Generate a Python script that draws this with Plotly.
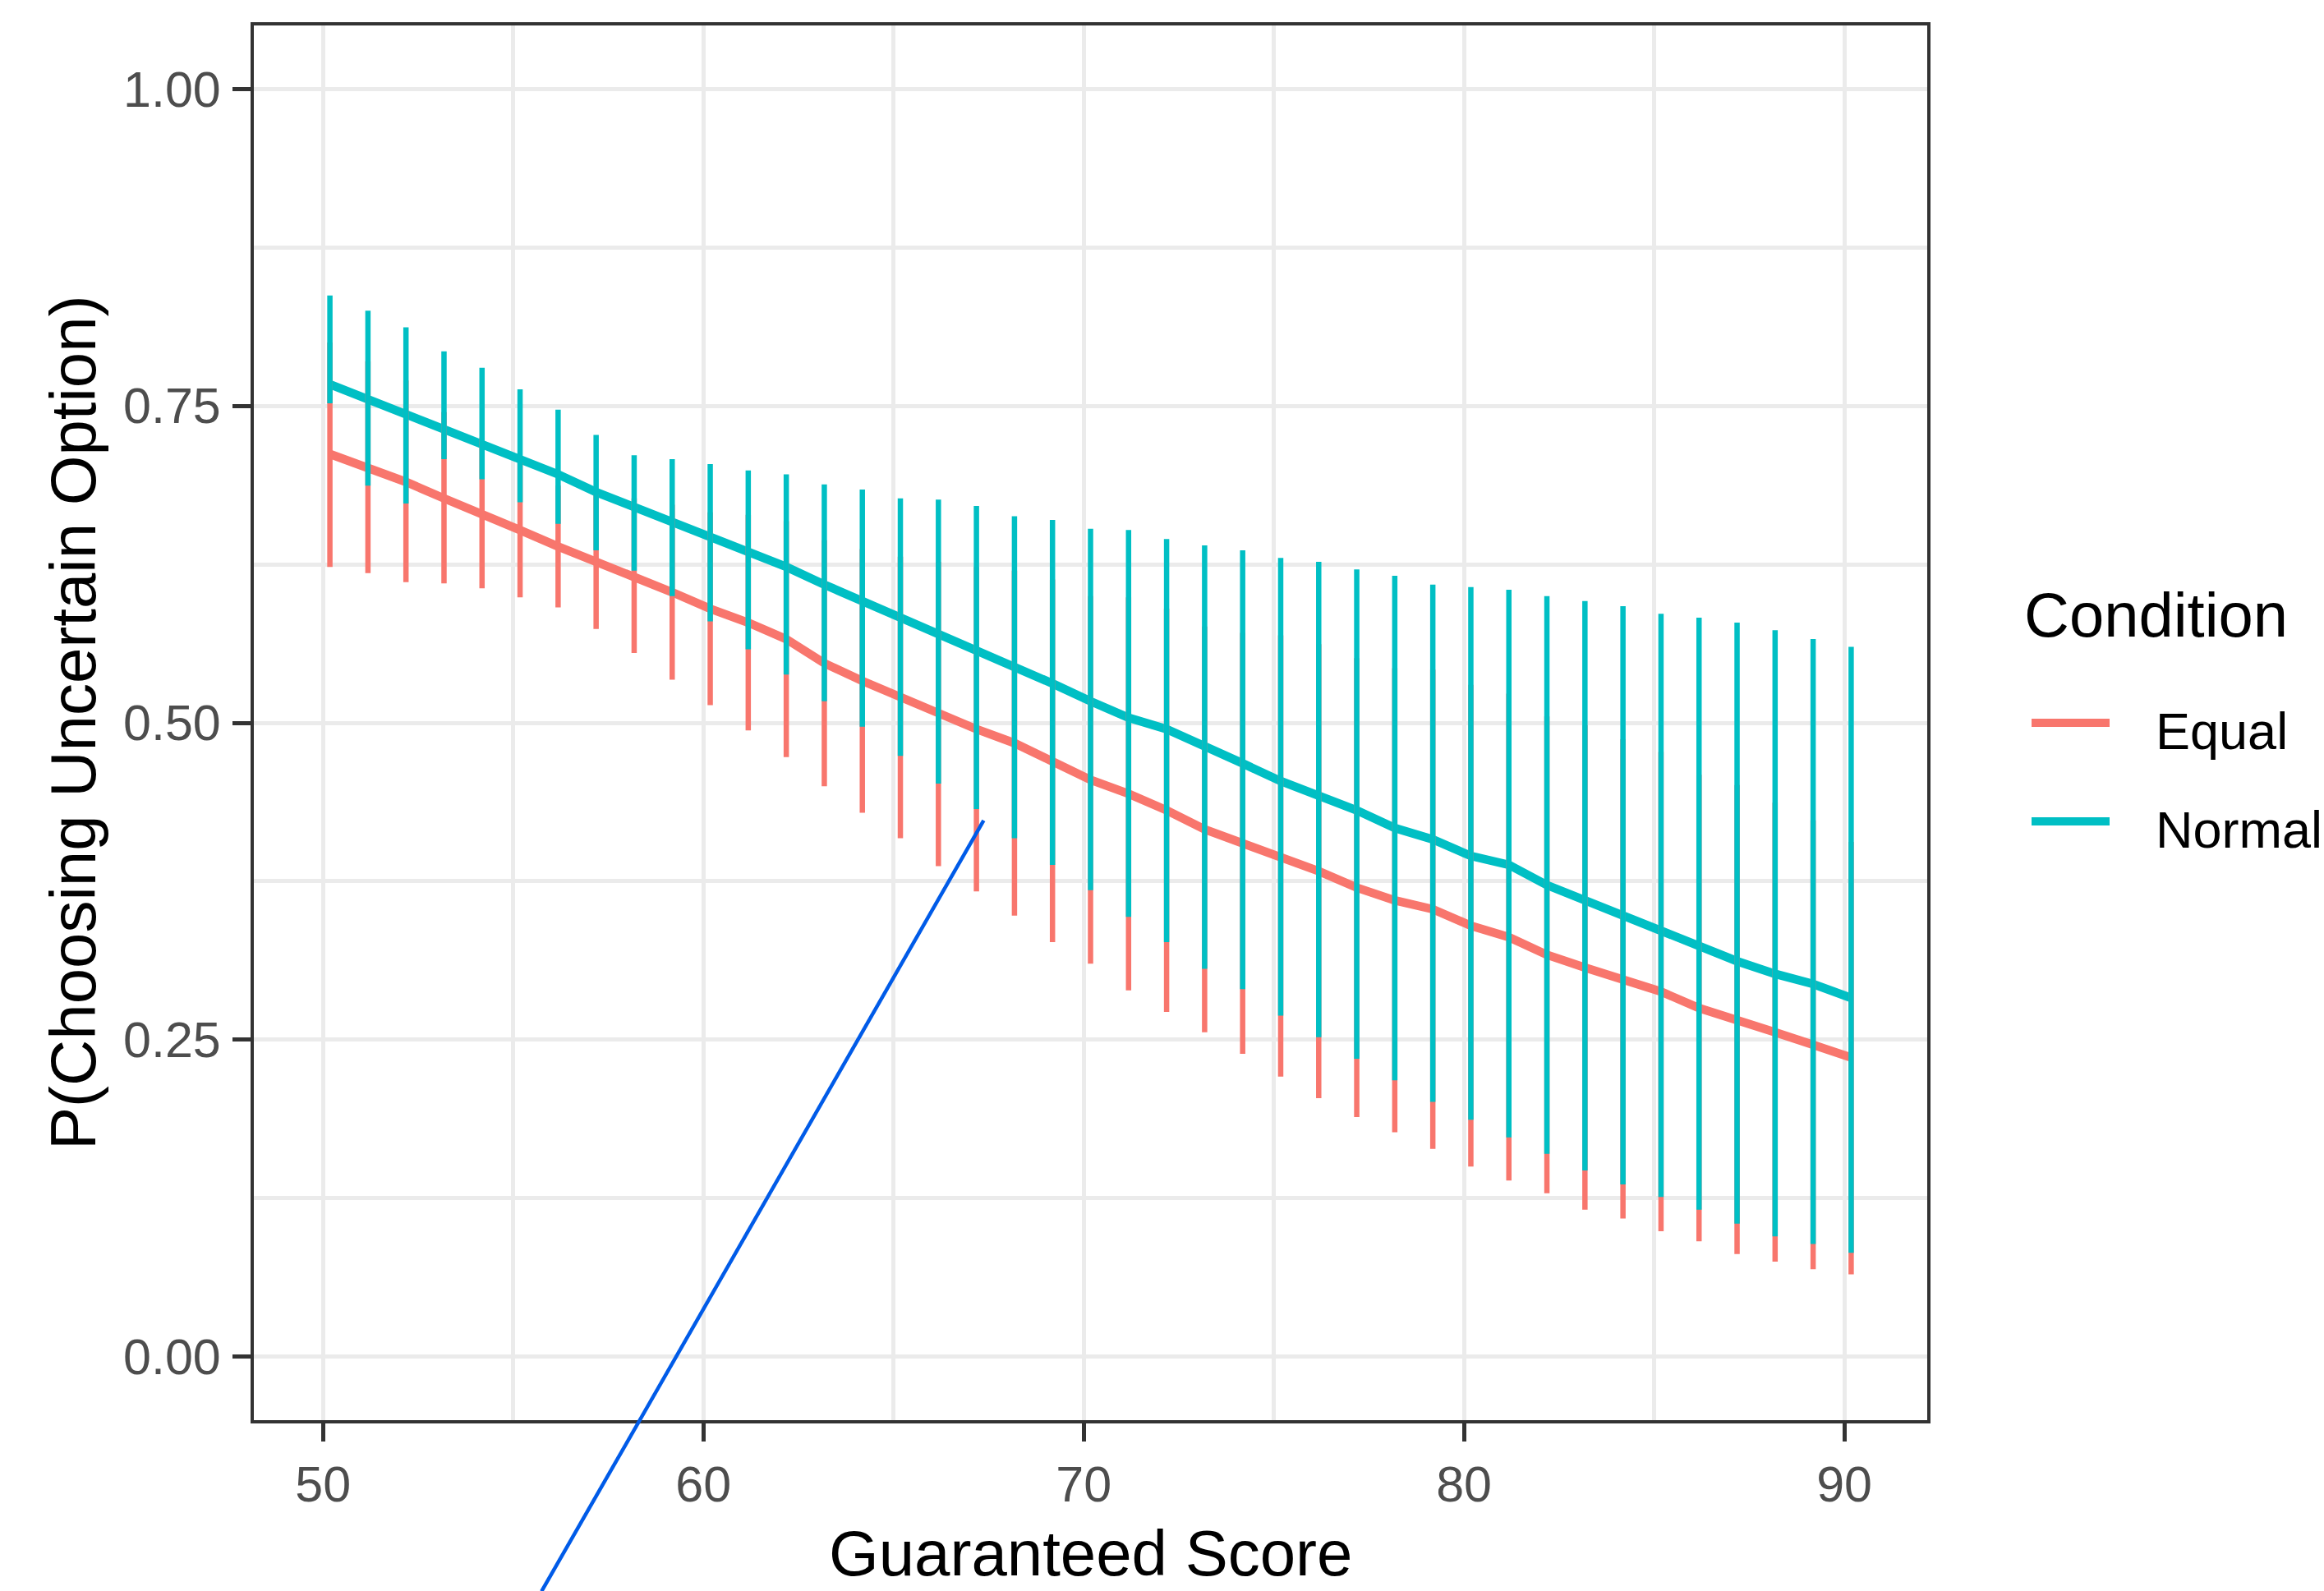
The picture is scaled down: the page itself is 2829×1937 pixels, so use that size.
import plotly.graph_objects as go

# ---------------- data ----------------
scores = list(range(50, 91))          # Guaranteed Score categories
dodge = 0.18                          # small horizontal offset of the plotted points

normal_mean = [0.767, 0.755, 0.744, 0.731, 0.720, 0.708, 0.696, 0.682, 0.670, 0.659,
               0.646, 0.635, 0.623, 0.609, 0.596, 0.584, 0.571, 0.558, 0.544, 0.531,
               0.517, 0.504, 0.495, 0.482, 0.468, 0.454, 0.442, 0.431, 0.417, 0.408,
               0.395, 0.388, 0.372, 0.360, 0.349, 0.337, 0.325, 0.312, 0.302, 0.294,
               0.283]
equal_mean = [0.712, 0.701, 0.690, 0.677, 0.665, 0.652, 0.639, 0.627, 0.616, 0.603,
              0.590, 0.579, 0.566, 0.547, 0.533, 0.520, 0.507, 0.495, 0.484, 0.470,
              0.455, 0.444, 0.431, 0.416, 0.405, 0.395, 0.383, 0.370, 0.360, 0.353,
              0.340, 0.331, 0.317, 0.307, 0.298, 0.288, 0.275, 0.266, 0.256, 0.246,
              0.236]
normal_hi = [0.837, 0.825, 0.812, 0.793, 0.780, 0.763, 0.747, 0.727, 0.711, 0.708,
             0.704, 0.699, 0.696, 0.688, 0.684, 0.677, 0.676, 0.671, 0.663, 0.660,
             0.653, 0.652, 0.645, 0.640, 0.636, 0.630, 0.627, 0.621, 0.616, 0.609,
             0.607, 0.605, 0.600, 0.596, 0.592, 0.586, 0.583, 0.579, 0.573, 0.566,
             0.560]
normal_lo = [0.752, 0.687, 0.673, 0.708, 0.692, 0.674, 0.657, 0.636, 0.620, 0.600,
             0.580, 0.558, 0.538, 0.517, 0.497, 0.474, 0.452, 0.432, 0.409, 0.388,
             0.368, 0.347, 0.327, 0.306, 0.290, 0.269, 0.252, 0.235, 0.218, 0.201,
             0.187, 0.173, 0.160, 0.147, 0.136, 0.126, 0.116, 0.105, 0.095, 0.089,
             0.082]
equal_hi = [0.800, 0.785, 0.770, 0.745, 0.725, 0.705, 0.687, 0.680, 0.677, 0.672,
            0.666, 0.664, 0.659, 0.644, 0.637, 0.631, 0.627, 0.623, 0.620, 0.613,
            0.600, 0.599, 0.590, 0.576, 0.571, 0.569, 0.562, 0.551, 0.543, 0.542,
            0.530, 0.523, 0.505, 0.498, 0.487, 0.477, 0.459, 0.451, 0.437, 0.423,
            0.406]
equal_lo = [0.623, 0.618, 0.611, 0.610, 0.606, 0.599, 0.591, 0.574, 0.555, 0.534,
            0.514, 0.494, 0.473, 0.450, 0.429, 0.409, 0.387, 0.367, 0.348, 0.327,
            0.310, 0.289, 0.272, 0.256, 0.239, 0.221, 0.204, 0.189, 0.177, 0.164,
            0.150, 0.139, 0.129, 0.116, 0.109, 0.099, 0.091, 0.081, 0.075, 0.069,
            0.065]

conditions = ["Equal", "Normal"]
colors = {"Equal": "#F8766D", "Normal": "#00BFC4"}

x_ticks = [50, 60, 70, 80, 90]
y_ticks = [0.0, 0.25, 0.5, 0.75, 1.0]
y_ticklabels = ["0.00", "0.25", "0.50", "0.75", "1.00"]

# stray annotation line (data units): start point and end point
arrow_start = (67.37, 0.423)
arrow_end = (55.745, -0.185)

# ---------------- figure ----------------
x_pos = [s + dodge for s in scores]
X_RANGE = [48.18, 92.18]
Y_RANGE = [-0.05, 1.05]
W, H = 2829, 1937
ML, MR, MT, MB = 309, 483, 31, 208
PW, PH = W - ML - MR, H - MT - MB
FONT = "Liberation Sans, Arial, sans-serif"


def bar_segments(xs, lo, hi):
    X, Y = [], []
    for x, a, b in zip(xs, lo, hi):
        X += [x, x, None]
        Y += [a, b, None]
    return X, Y


fig = go.Figure()

# mean lines
fig.add_trace(go.Scatter(x=x_pos, y=equal_mean, mode="lines", name="Equal",
                         line=dict(color=colors["Equal"], width=10.5), showlegend=False))
fig.add_trace(go.Scatter(x=x_pos, y=normal_mean, mode="lines", name="Normal",
                         line=dict(color=colors["Normal"], width=10.5), showlegend=False))

# error bars
ex, ey = bar_segments(x_pos, equal_lo, equal_hi)
fig.add_trace(go.Scatter(x=ex, y=ey, mode="lines", name="Equal",
                         line=dict(color=colors["Equal"], width=6.5), showlegend=False))
nx, ny = bar_segments(x_pos, normal_lo, normal_hi)
fig.add_trace(go.Scatter(x=nx, y=ny, mode="lines", name="Normal",
                         line=dict(color=colors["Normal"], width=6.5), showlegend=False))


def px_x(v):
    return (v - X_RANGE[0]) / (X_RANGE[1] - X_RANGE[0])


def px_y(v):
    return (v - Y_RANGE[0]) / (Y_RANGE[1] - Y_RANGE[0])


def paper_x(pix):
    return (pix - ML) / PW


def paper_y(pix):
    return (MT + PH - pix) / PH


shapes = []
# stray blue line extending beyond the panel
shapes.append(dict(type="line", xref="paper", yref="paper",
                   x0=px_x(arrow_start[0]), y0=px_y(arrow_start[1]),
                   x1=px_x(arrow_end[0]), y1=px_y(arrow_end[1]),
                   line=dict(color="#005BE8", width=4.5)))

annotations = []
# custom legend
annotations.append(dict(text="Condition", xref="paper", yref="paper",
                        x=paper_x(2462), y=paper_y(748), xanchor="left", yanchor="middle",
                        showarrow=False, font=dict(size=76, color="black", family=FONT)))
legend_y = {"Equal": 880, "Normal": 1000}
for c in conditions:
    yy = legend_y[c]
    shapes.append(dict(type="line", xref="paper", yref="paper",
                       x0=paper_x(2473), x1=paper_x(2568), y0=paper_y(yy), y1=paper_y(yy),
                       line=dict(color=colors[c], width=10)))
    annotations.append(dict(text=c, xref="paper", yref="paper",
                            x=paper_x(2622), y=paper_y(yy + 10), xanchor="left", yanchor="middle",
                            showarrow=False, font=dict(size=63, color="black", family=FONT)))

# axis titles
annotations.append(dict(text="Guaranteed Score", xref="paper", yref="paper",
                        x=0.5, y=paper_y(1891), xanchor="center", yanchor="middle",
                        showarrow=False, font=dict(size=78, color="black", family=FONT)))
annotations.append(dict(text="P(Choosing Uncertain Option)", xref="paper", yref="paper",
                        x=paper_x(89), y=0.5, xanchor="center", yanchor="middle", textangle=-90,
                        showarrow=False, font=dict(size=78, color="black", family=FONT)))

axis_common = dict(showline=True, mirror=True, linecolor="#333333", linewidth=4,
                   ticks="outside", ticklen=22, tickwidth=5, tickcolor="#333333",
                   showgrid=True, gridcolor="#EBEBEB", gridwidth=5, zeroline=False,
                   tickfont=dict(size=61, color="#4D4D4D", family=FONT))

fig.update_layout(
    width=W, height=H,
    margin=dict(l=ML, r=MR, t=MT, b=MB),
    paper_bgcolor="white", plot_bgcolor="white",
    showlegend=False,
    xaxis=dict(range=X_RANGE, tickvals=x_ticks, ticktext=[str(v) for v in x_ticks],
               minor=dict(dtick=5, tick0=50, showgrid=True, gridcolor="#EBEBEB",
                          gridwidth=5, ticks=""),
               **axis_common),
    yaxis=dict(range=Y_RANGE, tickvals=y_ticks, ticktext=y_ticklabels,
               minor=dict(dtick=0.125, tick0=0, showgrid=True, gridcolor="#EBEBEB",
                          gridwidth=5, ticks=""),
               ticklabelstandoff=2,
               **axis_common),
    shapes=shapes,
    annotations=annotations,
)

fig.write_html("out.html",
               config={"displayModeBar": False},
               post_script="document.body.style.margin='0';document.body.style.padding='0';"
                           "document.body.style.overflow='hidden';")
